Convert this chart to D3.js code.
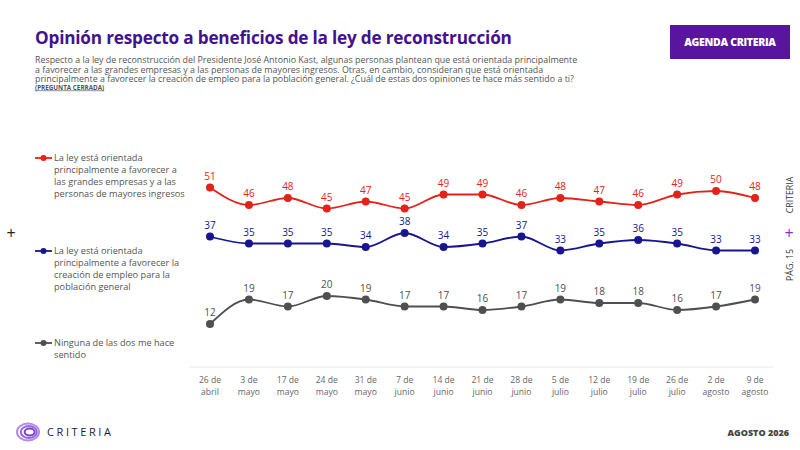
<!DOCTYPE html>
<html>
<head>
<meta charset="utf-8">
<script src="https://cdn.jsdelivr.net/npm/d3@7"></script>
<style>
  body { margin: 0; background: #fff; }
  svg { font-family: "Open Sans", "Noto Sans", sans-serif; }
</style>
</head>
<body>
<div id="root"></div>
<script>
// fechas de cada medición
var categories = ['26 de|abril', '3 de|mayo', '17 de|mayo', '24 de|mayo', '31 de|mayo',
  '7 de|junio', '14 de|junio', '21 de|junio', '28 de|junio', '5 de|julio',
  '12 de|julio', '19 de|julio', '26 de|julio', '2 de|agosto', '9 de|agosto'];

var grandesEmpresas = [51, 46, 48, 45, 47, 45, 49, 49, 46, 48, 47, 46, 49, 50, 48];
var creacionEmpleo = [37, 35, 35, 35, 34, 38, 34, 35, 37, 33, 35, 36, 35, 33, 33];
var ninguna = [12, 19, 17, 20, 19, 17, 17, 16, 17, 19, 18, 18, 16, 17, 19];

var seriesNames = [
  ['La ley está orientada', 'principalmente a favorecer a', 'las grandes empresas y a las', 'personas de mayores ingresos'],
  ['La ley está orientada', 'principalmente a favorecer la', 'creación de empleo para la', 'población general'],
  ['Ninguna de las dos me hace', 'sentido']
];
var seriesColors = ['#e32219', '#17158f', '#4f4f4f'];

var W = 800, H = 450;
var svg = d3.select('#root').append('svg')
  .attr('width', W)
  .attr('height', H);

// encabezado
svg.append('text')
  .attr('x', 35).attr('y', 44)
  .attr('font-size', 17.2).attr('font-weight', 700)
  .attr('letter-spacing', -0.2)
  .attr('fill', '#44118f')
  .text('Opinión respecto a beneficios de la ley de reconstrucción');

var intro = [
  'Respecto a la ley de reconstrucción del Presidente José Antonio Kast, algunas personas plantean que está orientada principalmente',
  'a favorecer a las grandes empresas y a las personas de mayores ingresos. Otras, en cambio, consideran que está orientada',
  'principalmente a favorecer la creación de empleo para la población general. ¿Cuál de estas dos opiniones te hace más sentido a ti?'
];
svg.append('text')
  .attr('font-size', 8.9).attr('fill', '#555')
  .selectAll('tspan')
  .data(intro)
  .enter().append('tspan')
    .attr('x', 35)
    .attr('y', (d, i) => 63 + i * 9.6)
    .text(d => d);

svg.append('text')
  .attr('x', 35).attr('y', 89.5)
  .attr('font-size', 6.3).attr('font-weight', 700).attr('fill', '#555')
  .attr('text-decoration', 'underline')
  .text('(PREGUNTA CERRADA)');

svg.append('rect')
  .attr('x', 670).attr('y', 25).attr('width', 120).attr('height', 34)
  .attr('fill', '#5a159e');
svg.append('text')
  .attr('x', 730).attr('y', 46)
  .attr('text-anchor', 'middle')
  .attr('font-size', 10.5).attr('font-weight', 800).attr('fill', '#fff')
  .attr('letter-spacing', -0.3)
  .text('AGENDA CRITERIA');

// escalas
var x = d3.scalePoint()
  .domain(d3.range(categories.length))
  .range([210, 755]);

var y = d3.scaleLinear()
  .domain([0, 52])
  .range([366, 184]);

// eje x
svg.append('line')
  .attr('x1', 190).attr('x2', 773)
  .attr('y1', 367).attr('y2', 367)
  .attr('stroke', '#e6e6e6').attr('stroke-width', 1);

var ticks = svg.append('g')
  .selectAll('text')
  .data(categories)
  .enter().append('text')
    .attr('text-anchor', 'middle')
    .attr('font-size', 8.6)
    .attr('fill', '#666');

ticks.selectAll('tspan')
  .data((d, i) => d.split('|').map(t => ({ t: t, i: i })))
  .enter().append('tspan')
    .attr('x', d => x(d.i))
    .attr('y', (d, j) => 383 + j * 12)
    .text(d => d.t);

// series
var allSeries = [grandesEmpresas, creacionEmpleo, ninguna];

var line = d3.line()
  .x((d, i) => x(i))
  .y(d => y(d))
  .curve(d3.curveMonotoneX);

allSeries.forEach((values, s) => {
  var g = svg.append('g');
  g.append('path')
    .attr('d', line(values))
    .attr('fill', 'none')
    .attr('stroke', seriesColors[s])
    .attr('stroke-width', 1.8);

  g.selectAll('circle')
    .data(values)
    .enter().append('circle')
      .attr('cx', (d, i) => x(i))
      .attr('cy', d => y(d))
      .attr('r', 4)
      .attr('fill', seriesColors[s]);

  g.selectAll('text')
    .data(values)
    .enter().append('text')
      .attr('x', (d, i) => x(i))
      .attr('y', d => y(d) - 8)
      .attr('text-anchor', 'middle')
      .attr('font-size', 10)
      .attr('font-weight', 500)
      .attr('fill', seriesColors[s])
      .text(d => d);
});

// leyenda
var legendY = [158, 251, 343];
seriesNames.forEach((lines, s) => {
  var g = svg.append('g').attr('transform', 'translate(35,' + legendY[s] + ')');
  g.append('line')
    .attr('x1', 0).attr('x2', 17)
    .attr('stroke', seriesColors[s]).attr('stroke-width', 1.8);
  g.append('circle')
    .attr('cx', 8.5).attr('r', 3)
    .attr('fill', seriesColors[s]);
  g.append('text')
    .attr('font-size', 9.2).attr('fill', '#555')
    .selectAll('tspan')
    .data(lines)
    .enter().append('tspan')
      .attr('x', 19)
      .attr('y', (d, i) => 3 + i * 12)
      .text(d => d);
});

// marcas laterales
svg.append('text')
  .attr('x', 11).attr('y', 239)
  .attr('text-anchor', 'middle')
  .attr('font-size', 16).attr('fill', '#222')
  .text('+');

svg.append('text')
  .attr('x', 789).attr('y', 239)
  .attr('text-anchor', 'middle')
  .attr('font-size', 16).attr('fill', '#8a2be2')
  .text('+');

svg.append('text')
  .attr('transform', 'translate(793,195) rotate(-90)')
  .attr('text-anchor', 'middle')
  .attr('font-size', 8.8).attr('fill', '#333')
  .text('CRITERIA');

svg.append('text')
  .attr('transform', 'translate(793,265) rotate(-90)')
  .attr('text-anchor', 'middle')
  .attr('font-size', 8.8).attr('fill', '#333')
  .text('PÁG. 15');

// pie
var logo = svg.append('g').attr('transform', 'translate(28,432)');
[10, 7, 4].forEach((r, i) => {
  logo.append('ellipse')
    .attr('cx', i * 0.8).attr('cy', 0)
    .attr('rx', r + 1).attr('ry', r * 0.85)
    .attr('fill', 'none')
    .attr('stroke', d3.interpolateRgb('#b48aea', '#7b3fd4')(i / 2))
    .attr('stroke-width', 2);
});

svg.append('text')
  .attr('x', 47).attr('y', 436)
  .attr('font-size', 11).attr('font-weight', 500)
  .attr('letter-spacing', 2.6)
  .attr('fill', '#1c1b3a')
  .text('CRITERIA');

svg.append('text')
  .attr('x', 789).attr('y', 436)
  .attr('text-anchor', 'end')
  .attr('font-size', 9).attr('font-weight', 800)
  .attr('fill', '#444')
  .text('AGOSTO 2026');
</script>
</body>
</html>
